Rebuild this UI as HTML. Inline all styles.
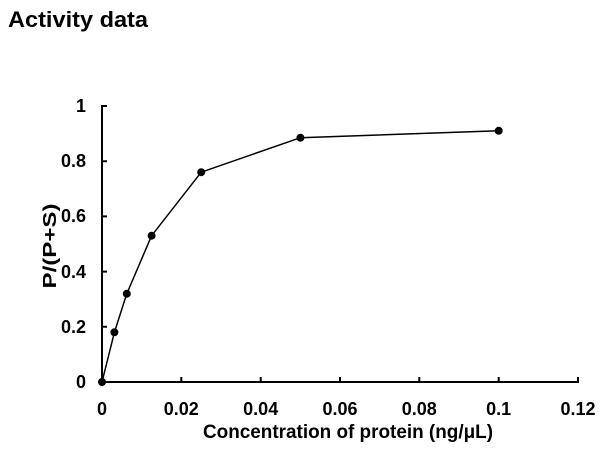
<!DOCTYPE html><html><head><style>body{margin:0;background:#fff}</style></head><body>
<svg width="608" height="461" xmlns="http://www.w3.org/2000/svg" font-family="Liberation Sans, sans-serif" font-weight="bold">
<text x="8" y="27" font-size="22" textLength="140" lengthAdjust="spacingAndGlyphs">Activity data</text>
<g stroke="#000" stroke-width="2" fill="none">
<line x1="102" y1="105" x2="102" y2="383"/>
<line x1="101" y1="382" x2="579" y2="382"/>
<path d="M102 326.8h5M102 271.6h5M102 216.4h5M102 161.2h5M102 106h5"/>
<path d="M181.3 382v-5M260.7 382v-5M340 382v-5M419.3 382v-5M498.7 382v-5M578 382v-5"/>
</g>
<polyline fill="none" stroke="#000" stroke-width="1.5" points="102,382 114.4,332.3 126.8,293.7 151.6,235.7 201.2,172.2 300.4,137.7 498.7,130.8"/>
<g fill="#000">
<circle cx="102" cy="382" r="4"/><circle cx="114.4" cy="332.3" r="4"/><circle cx="126.8" cy="293.7" r="4"/><circle cx="151.6" cy="235.7" r="4"/><circle cx="201.2" cy="172.2" r="4"/><circle cx="300.4" cy="137.7" r="4"/><circle cx="498.7" cy="130.8" r="4"/>
</g>
<g font-size="18" text-anchor="end">
<text x="86" y="388">0</text><text x="86" y="333">0.2</text><text x="86" y="278">0.4</text><text x="86" y="222">0.6</text><text x="86" y="167">0.8</text><text x="86" y="112">1</text>
</g>
<g font-size="18" text-anchor="middle">
<text x="102" y="415">0</text><text x="181.3" y="415">0.02</text><text x="260.7" y="415">0.04</text><text x="340" y="415">0.06</text><text x="419.3" y="415">0.08</text><text x="498.7" y="415">0.1</text><text x="578" y="415">0.12</text>
<text x="348" y="438" font-size="19" textLength="290" lengthAdjust="spacingAndGlyphs">Concentration of protein (ng/μL)</text>
<text transform="translate(56,246) rotate(-90)" font-size="18" textLength="85" lengthAdjust="spacingAndGlyphs">P/(P+S)</text>
</g>
</svg></body></html>
